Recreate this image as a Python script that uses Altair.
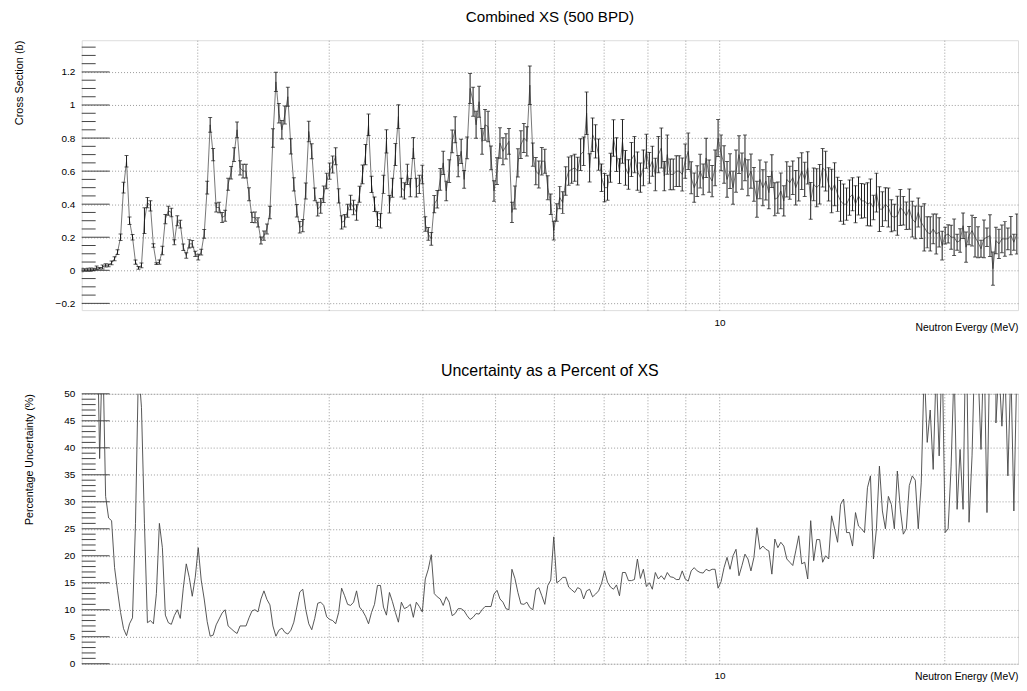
import altair as alt
import pandas as pd

# ---------------- data ----------------
BINS_PER_DECADE = 250          # plotted bin density
E_START = 1.4                  # MeV, first bin

# Combined cross section (b), one value per bin
xs = [
    0.002, 0.002, 0.003, 0.004, 0.005, 0.015, 0.012, 0.02, 0.03, 0.03,
    0.045, 0.07, 0.11, 0.2, 0.5, 0.66, 0.3, 0.2, 0.05, 0.015,
    0.03, 0.3, 0.41, 0.39, 0.15, 0.04, 0.05, 0.12, 0.31, 0.36,
    0.35, 0.17, 0.3, 0.28, 0.14, 0.09, 0.16, 0.16, 0.1, 0.08,
    0.11, 0.22, 0.5, 0.88, 0.7, 0.38, 0.38, 0.32, 0.33, 0.52,
    0.59, 0.7, 0.85, 0.62, 0.6, 0.6, 0.46, 0.32, 0.32, 0.29,
    0.18, 0.21, 0.25, 0.35, 0.8, 1.14, 0.95, 0.85, 0.94, 1.05,
    0.75, 0.52, 0.36, 0.26, 0.27, 0.48, 0.84, 0.72, 0.46, 0.37,
    0.39, 0.46, 0.54, 0.6, 0.64, 0.69, 0.45, 0.29, 0.3, 0.36,
    0.41, 0.38, 0.35, 0.46, 0.58, 0.7, 0.88, 0.52, 0.4, 0.31,
    0.3, 0.52, 0.78, 0.4, 0.5, 0.7, 0.93, 0.5, 0.48, 0.58,
    0.5, 0.74, 0.5, 0.52, 0.58, 0.28, 0.22, 0.19, 0.4, 0.43,
    0.55, 0.65, 0.48, 0.6, 0.78, 0.85, 0.63, 0.72, 0.55, 0.74,
    1.1, 1.02, 0.88, 1.02, 0.78, 0.88, 0.87, 0.68, 0.48, 0.6,
    0.77, 0.72, 0.75, 0.78, 0.35, 0.44, 0.65, 0.76, 0.8, 0.78,
    1.12, 0.7, 0.6, 0.58, 0.66, 0.66, 0.5, 0.4, 0.24, 0.35,
    0.44, 0.41, 0.54, 0.6, 0.61, 0.62, 0.6, 0.7, 0.72, 0.95,
    0.62, 0.82, 0.78, 0.7, 0.56, 0.5, 0.5, 0.62, 0.8, 0.7,
    0.6, 0.78, 0.62, 0.58, 0.67, 0.7, 0.6, 0.56, 0.62, 0.72,
    0.62, 0.66, 0.58, 0.7, 0.74, 0.57, 0.7, 0.58, 0.58, 0.6,
    0.6, 0.58, 0.66, 0.72, 0.56, 0.5, 0.54, 0.6, 0.55, 0.68,
    0.57, 0.54, 0.62, 0.8, 0.71, 0.64, 0.55, 0.6, 0.5, 0.6,
    0.7, 0.6, 0.68, 0.56, 0.6, 0.52, 0.43, 0.55, 0.5, 0.54,
    0.47, 0.6, 0.43, 0.44, 0.48, 0.42, 0.55, 0.53, 0.56, 0.5,
    0.55, 0.6, 0.55, 0.62, 0.42, 0.52, 0.5, 0.52, 0.62, 0.6,
    0.52, 0.48, 0.52, 0.46, 0.42, 0.4, 0.4, 0.44, 0.46, 0.4,
    0.45, 0.42, 0.42, 0.4, 0.41, 0.38, 0.47, 0.37, 0.37, 0.4,
    0.38, 0.33, 0.32, 0.33, 0.38, 0.36, 0.33, 0.37, 0.31, 0.29,
    0.35, 0.29, 0.26, 0.23, 0.22, 0.25, 0.22, 0.23, 0.15, 0.21,
    0.22, 0.2, 0.2, 0.17, 0.18, 0.27, 0.14, 0.21, 0.24, 0.2,
    0.17, 0.13, 0.19, 0.2, 0.21, 0.01, 0.18, 0.16, 0.19, 0.19,
    0.19, 0.21, 0.17, 0.22,
]

# Uncertainty as a percent of XS, one value per bin
pct = [
    500, 400, 300, 250, 150, 70, 38, 60, 31, 27,
    26.5, 17.8, 13.5, 9.5, 6.5, 5.2, 7.4, 8.5, 26, 55,
    47.5, 26, 7.6, 8, 7.4, 13, 26, 21.5, 9, 7.6,
    7.3, 8.9, 10, 8.4, 14, 18.5, 16, 12.5, 16, 21.5,
    15.5, 12, 7.8, 5.1, 5.3, 7.2, 8.3, 9.4, 10, 7,
    6.5, 6, 5.6, 7, 7, 7, 8.5, 9.8, 10, 9.6,
    12, 13.5, 11.9, 10.9, 7, 5.1, 6.2, 6.6, 5.8, 5.5,
    6.2, 7.7, 10.5, 13.3, 13.8, 10, 7.4, 6.3, 8.4, 11.2,
    11.4, 10.8, 8.7, 8.2, 8, 7.4, 9.5, 14, 12.6, 11,
    10.8, 11.4, 13.5, 10.5, 9.8, 8.8, 7.4, 9.5, 11, 14.5,
    14.5, 10.5, 9, 13.2, 11.5, 9.5, 7.7, 11.4, 10.2, 10.5,
    11, 8.6, 11.4, 10.6, 9.6, 15.7, 17.5, 20.2, 13, 12.4,
    12, 10.8, 12.4, 11.4, 8.9, 9.3, 10.2, 10.2, 9.8, 8.9,
    8.2, 8.6, 9.3, 9.2, 10, 10.6, 10.6, 10.6, 12.9, 13.6,
    12, 11.4, 10.2, 10, 17.5, 15.8, 13.2, 11.1, 11, 11.4,
    10.4, 10, 13.7, 14.1, 12.6, 11, 14.5, 15.5, 23.5, 15,
    15.4, 16, 16, 14.2, 13.7, 13.2, 14.1, 13.8, 12, 13.5,
    13.8, 12.4, 12.9, 13.5, 14.9, 17.2, 15.1, 14.2, 13.8, 14.6,
    12.6, 16.9, 16.9, 15.4, 15.4, 15.6, 19.4, 15.8, 17.5, 14.3,
    15, 13.8, 16.9, 15.7, 16.3, 15.6, 16.9, 16.1, 16, 15.6,
    15.6, 17.2, 15.7, 15.3, 17.2, 17.8, 17.2, 16.9, 16.8, 17.5,
    17.2, 17.5, 17.5, 14, 15.2, 17.8, 19.7, 17.5, 20, 21.2,
    16.3, 18.2, 20.3, 19.4, 17.2, 19.7, 25.2, 21.2, 21.8, 21.2,
    20.9, 16.6, 23.1, 21.5, 22.5, 21.8, 19.4, 18.8, 18.2, 20.9,
    23.7, 18.5, 18.8, 15.7, 26.5, 19.1, 23, 23, 18.8, 20,
    19.4, 27.4, 25, 22.5, 29.5, 30.5, 24.3, 24.3, 21.8, 28,
    25.5, 25, 24.3, 32.6, 34.8, 19.4, 25, 36.6, 28.3, 25,
    31, 29.5, 25, 35.7, 28.6, 24, 25, 33, 34.8, 34,
    25, 33.5, 55, 41, 47, 36, 55, 38.5, 58, 24.3,
    25, 36.6, 55, 28.6, 39.7, 28.6, 65, 26.2, 38.5, 60,
    55, 39.7, 60, 28, 60, 1000, 44.6, 55, 44, 55,
    34.8, 55, 28.3, 55,
]

# axis decorations
X_DOMAIN = [1.4, 25.1]
X_GRID = [2, 3, 4, 5, 6, 7, 8, 9, 10, 20]
TOP_DOMAIN = [-0.241, 1.392]
TOP_MAJOR = [-0.2, 0, 0.2, 0.4, 0.6, 0.8, 1.0, 1.2]
TOP_MINOR = [round(-0.2 + 0.05 * k, 2) for k in range(32)]
BOT_DOMAIN = [0, 50]
BOT_MAJOR = [0, 5, 10, 15, 20, 25, 30, 35, 40, 45, 50]
BOT_MINOR = list(range(0, 51))

# ---------------- tables ----------------
energy = [E_START * 10 ** (i / BINS_PER_DECADE) for i in range(len(xs))]
err = [x * p / 100.0 for x, p in zip(xs, pct)]
df = pd.DataFrame({
    "E": energy,
    "xs": xs,
    "lo": [x - e for x, e in zip(xs, err)],
    "hi": [x + e for x, e in zip(xs, err)],
    "pct": pct,
})

FONT = "Liberation Sans"
W, H = 940, 271
GRID = dict(grid=True, gridDash=[1, 2], gridColor="#9a9a9a", gridWidth=1)

xscale = alt.Scale(type="log", domain=X_DOMAIN)


def x_axis(title, ty):
    return alt.Axis(values=X_GRID, labelExpr="datum.value == 10 ? '10' : ''",
                    labelOverlap=False, labelFlush=False, ticks=False, domain=False,
                    labelFontSize=10, labelPadding=7, labelColor="black", labelFont=FONT,
                    title=title, titleFontSize=10.4, titleFontWeight="normal", titleFont=FONT,
                    titleColor="black", titleX=W, titleY=ty, titleAlign="right",
                    titleBaseline="middle", **GRID)


def y_axis(values, title, tx, tsize):
    return alt.Axis(values=values, format="~g", ticks=False, domain=False,
                    labelFontSize=10, labelPadding=7, labelColor="black", labelFont=FONT,
                    title=title, titleFontSize=tsize, titleFontWeight="normal", titleFont=FONT,
                    titleColor="black", titleAngle=270, titleAlign="right",
                    titleBaseline="middle", titleX=tx, titleY=0, **GRID)


def panel(ylayers, major, minor, yscale, yaxis, title, tsize, toffset):
    tick_major = alt.Chart(pd.DataFrame({"v": major})).mark_rule(color="#444", strokeWidth=1).encode(
        y=alt.Y("v:Q", scale=yscale, axis=yaxis), x=alt.value(0), x2=alt.value(28))
    tick_minor = alt.Chart(pd.DataFrame({"v": [m for m in minor if m not in major]})).mark_rule(
        color="#444", strokeWidth=1).encode(
        y=alt.Y("v:Q", scale=yscale, axis=yaxis), x=alt.value(0), x2=alt.value(14))
    return alt.layer(tick_major, tick_minor, *ylayers).properties(
        width=W, height=H,
        title=alt.TitleParams(title, fontSize=tsize, font=FONT, fontWeight="normal",
                              color="black", anchor="middle", offset=toffset),
    )


# ---- top panel ----
ys_top = alt.Scale(domain=TOP_DOMAIN, nice=False, zero=False)
ax_top = y_axis(TOP_MAJOR, "Cross Section (b)", -62, 11)
xa_top = x_axis("Neutron Evergy (MeV)", 17)
base = alt.Chart(df)
top_line = base.mark_line(color="#777", strokeWidth=1, clip=True).encode(
    x=alt.X("E:Q", scale=xscale, axis=xa_top), y=alt.Y("xs:Q", scale=ys_top, axis=ax_top))
top_bar = base.mark_rule(color="#1a1a1a", strokeWidth=1, clip=True).encode(
    x=alt.X("E:Q", scale=xscale, axis=xa_top), y=alt.Y("lo:Q", scale=ys_top, axis=ax_top), y2="hi:Q")
cap_lo = base.mark_tick(orient="horizontal", size=4, thickness=1, color="#1a1a1a", clip=True).encode(
    x=alt.X("E:Q", scale=xscale, axis=xa_top), y=alt.Y("lo:Q", scale=ys_top, axis=ax_top))
cap_hi = base.mark_tick(orient="horizontal", size=4, thickness=1, color="#1a1a1a", clip=True).encode(
    x=alt.X("E:Q", scale=xscale, axis=xa_top), y=alt.Y("hi:Q", scale=ys_top, axis=ax_top))
top = panel([top_line, top_bar, cap_lo, cap_hi], TOP_MAJOR, TOP_MINOR, ys_top, ax_top,
            "Combined XS (500 BPD)", 15.2, 15)

# ---- bottom panel ----
ys_bot = alt.Scale(domain=BOT_DOMAIN, nice=False, zero=False)
ax_bot = y_axis(BOT_MAJOR, "Percentage Uncertainty (%)", -52, 10.7)
xa_bot = x_axis("Neutron Energy (MeV)", 13)
bot_line = base.mark_line(color="#444", strokeWidth=0.9, clip=True).encode(
    x=alt.X("E:Q", scale=xscale, axis=xa_bot), y=alt.Y("pct:Q", scale=ys_bot, axis=ax_bot))
bottom = panel([bot_line], BOT_MAJOR, BOT_MINOR, ys_bot, ax_bot,
               "Uncertainty as a Percent of XS", 16, 10)

chart = alt.vconcat(top, bottom, spacing=29).properties(
    padding={"left": 5, "top": 0, "right": 0, "bottom": 0}
).configure_view(stroke="#7a7a7a", strokeWidth=1.2).configure(background="white")

chart.save("out.html", embed_options={"renderer": "svg", "actions": False})
